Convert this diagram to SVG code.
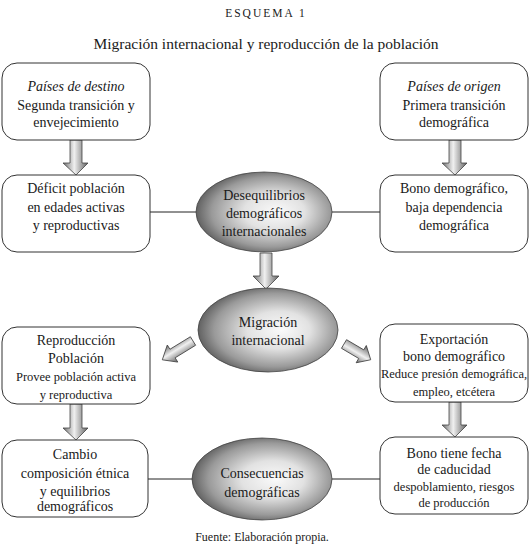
<svg xmlns="http://www.w3.org/2000/svg" width="532" height="552" viewBox="0 0 532 552">
<style>
text{font-family:"Liberation Serif","DejaVu Serif",serif;fill:#1a1a1a;text-anchor:middle}
.t{font-size:14px}
.s{font-size:12.5px}
.box{fill:#fff;stroke:#333;stroke-width:1}
.ell{fill:url(#eg);stroke:#444;stroke-width:0.8}
.arr{fill:url(#ag);stroke:#444;stroke-width:0.8}
.ln{stroke:#222;stroke-width:1;fill:none}
</style>
<defs>
<radialGradient id="eg" cx="0.54" cy="0.5" r="0.56" fx="0.6" fy="0.5">
<stop offset="0" stop-color="#fafafa"/>
<stop offset="0.4" stop-color="#e2e2e2"/>
<stop offset="0.78" stop-color="#9a9a9a"/>
<stop offset="1" stop-color="#585858"/>
</radialGradient>
<linearGradient id="ag" x1="0" y1="0" x2="1" y2="0">
<stop offset="0" stop-color="#6e6e6e"/>
<stop offset="0.45" stop-color="#f0f0f0"/>
<stop offset="1" stop-color="#606060"/>
</linearGradient>
</defs>

<text x="266" y="17" style="font-size:11.5px;letter-spacing:2px">ESQUEMA 1</text>
<text x="266" y="49" style="font-size:15.5px">Migración internacional y reproducción de la población</text>

<g id="connectors">
<line class="ln" x1="150" y1="212" x2="197" y2="212"/>
<line class="ln" x1="332" y1="212" x2="380" y2="212"/>
<line class="ln" x1="148" y1="479" x2="193" y2="479"/>
<line class="ln" x1="332" y1="479" x2="380" y2="479"/>
<path class="arr" d="M70,140 H82 V163 H88 L76,175 L63,163 H70 Z"/>
<path class="arr" d="M449,140 H461 V163 H467 L455,175 L442,163 H449 Z"/>
<path class="arr" d="M260,253 H272 V276 H279 L266,289 L253,276 H260 Z"/>
<path class="arr" d="M70,404 H82 V428 H88 L76,440 L63,428 H70 Z"/>
<path class="arr" d="M449,402 H461 V425 H467 L455,437 L442,425 H449 Z"/>
<g transform="translate(193,341) rotate(58.5)"><path class="arr" d="M-5,0 H5 V24 H10 L0,36 L-10,24 H-5 Z"/></g>
<g transform="translate(344,344) rotate(-59.5)"><path class="arr" d="M-5,0 H5 V20 H10 L0,31 L-10,20 H-5 Z"/></g>
</g>

<g id="destino">
<rect class="box" x="2" y="63" width="148" height="77" rx="15"/>
<text class="t" x="76" y="91" font-style="italic">Países de destino</text>
<text class="t" x="76" y="110">Segunda transición y</text>
<text class="t" x="76" y="127">envejecimiento</text>
</g>
<g id="origen">
<rect class="box" x="380" y="63" width="148" height="77" rx="15"/>
<text class="t" x="454" y="91" font-style="italic">Países de origen</text>
<text class="t" x="454" y="110">Primera transición</text>
<text class="t" x="454" y="127">demográfica</text>
</g>
<g id="deficit">
<rect class="box" x="2" y="175" width="148" height="77" rx="15"/>
<text class="t" x="76" y="193">Déficit población</text>
<text class="t" x="76" y="212">en edades activas</text>
<text class="t" x="76" y="230">y reproductivas</text>
</g>
<g id="bono">
<rect class="box" x="380" y="175" width="148" height="77" rx="15"/>
<text class="t" x="454" y="193">Bono demográfico,</text>
<text class="t" x="454" y="212">baja dependencia</text>
<text class="t" x="454" y="230">demográfica</text>
</g>
<g id="desequilibrios">
<ellipse class="ell" cx="264" cy="212" rx="68" ry="40"/>
<text class="t" x="264" y="200">Desequilibrios</text>
<text class="t" x="264" y="218">demográficos</text>
<text class="t" x="264" y="236">internacionales</text>
</g>
<g id="migracion">
<ellipse class="ell" cx="268" cy="330" rx="70" ry="42"/>
<text class="t" x="268" y="327">Migración</text>
<text class="t" x="268" y="345">internacional</text>
</g>
<g id="reproduccion">
<rect class="box" x="2" y="327" width="148" height="77" rx="15"/>
<text class="t" x="76" y="345">Reproducción</text>
<text class="t" x="76" y="363">Población</text>
<text class="s" x="76" y="381">Provee población activa</text>
<text class="s" x="76" y="399">y reproductiva</text>
</g>
<g id="exportacion">
<rect class="box" x="380" y="324" width="148" height="78" rx="15"/>
<text class="t" x="454" y="344">Exportación</text>
<text class="t" x="454" y="361">bono demográfico</text>
<text class="s" x="454" y="378">Reduce presión demográfica,</text>
<text class="s" x="454" y="396">empleo, etcétera</text>
</g>
<g id="cambio">
<rect class="box" x="2" y="440" width="146" height="77" rx="15"/>
<text class="t" x="75" y="459">Cambio</text>
<text class="t" x="75" y="478">composición étnica</text>
<text class="t" x="75" y="496">y equilibrios</text>
<text class="t" x="75" y="511">demográficos</text>
</g>
<g id="consecuencias">
<ellipse class="ell" cx="262" cy="479" rx="70" ry="41"/>
<text class="t" x="262" y="478">Consecuencias</text>
<text class="t" x="262" y="497">demográficas</text>
</g>
<g id="caducidad">
<rect class="box" x="380" y="437" width="148" height="77" rx="15"/>
<text class="t" x="454" y="458">Bono tiene fecha</text>
<text class="t" x="454" y="474">de caducidad</text>
<text class="s" x="454" y="491">despoblamiento, riesgos</text>
<text class="s" x="454" y="507">de producción</text>
</g>
<text x="262" y="541" style="font-size:12px">Fuente: Elaboración propia.</text>
</svg>
